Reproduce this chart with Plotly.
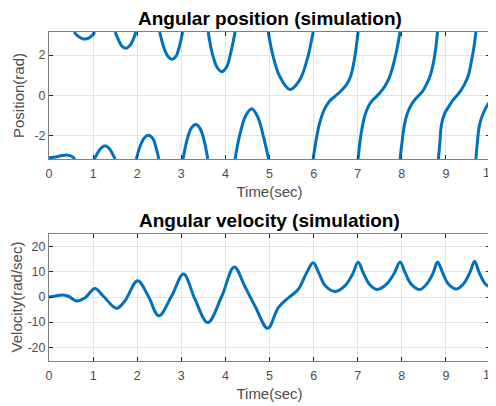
import plotly.graph_objects as go

# ---- data ----
# Angular position (wrapped to [-pi, pi]); segments separated by None at wraps
pos_t = [0.00, 0.15, 0.30, 0.42, 0.52, 0.59, None,
         0.57, 0.65, 0.74, 0.82, 0.90, 0.98, 1.04, None,
         1.03, 1.10, 1.18, 1.27, 1.36, 1.44, 1.50, None,
         1.50, 1.57, 1.65, 1.74, 1.83, 1.91, 1.97, None,
         1.98, 2.06, 2.16, 2.26, 2.36, 2.43, 2.49, None,
         2.51, 2.60, 2.70, 2.79, 2.88, 2.96, 3.03, None,
         3.04, 3.13, 3.23, 3.33, 3.43, 3.52, 3.60, None,
         3.61, 3.70, 3.81, 3.92, 4.03, 4.13, 4.22, None,
         4.22, 4.32, 4.46, 4.60, 4.74, 4.87, 4.98, None,
         4.97, 5.07, 5.22, 5.46, 5.68, 5.85, 5.99, None,
         5.99, 6.05, 6.11, 6.18, 6.26, 6.36, 6.49, 6.62, 6.75, 6.84, 6.91, 6.96, 7.01, None,
         7.01, 7.05, 7.10, 7.16, 7.24, 7.32, 7.39, 7.50, 7.62, 7.72, 7.81, 7.89, 7.96, None,
         7.96, 8.00, 8.06, 8.13, 8.22, 8.29, 8.37, 8.47, 8.56, 8.64, 8.71, 8.77, 8.81, None,
         8.83, 8.86, 8.90, 8.97, 9.07, 9.15, 9.24, 9.33, 9.42, 9.51, 9.58, 9.64, 9.68, None,
         9.68, 9.71, 9.75, 9.80, 9.85, 9.92, 10.00]
pos_v = [-3.08, -3.04, -2.97, -2.95, -3.02, -3.1416, None,
         3.1416, 2.95, 2.83, 2.79, 2.84, 2.98, 3.1416, None,
         -3.1416, -2.85, -2.60, -2.49, -2.60, -2.88, -3.1416, None,
         3.1416, 2.78, 2.45, 2.34, 2.46, 2.78, 3.1416, None,
         -3.1416, -2.55, -2.10, -1.97, -2.15, -2.60, -3.1416, None,
         3.1416, 2.40, 1.93, 1.79, 1.95, 2.45, 3.1416, None,
         -3.1416, -2.20, -1.60, -1.44, -1.65, -2.25, -3.1416, None,
         3.1416, 2.10, 1.40, 1.18, 1.42, 2.20, 3.1416, None,
         -3.1416, -2.00, -1.00, -0.66, -1.10, -2.10, -3.1416, None,
         3.1416, 2.05, 1.00, 0.30, 0.75, 1.75, 3.1416, None,
         -3.1416, -2.30, -1.60, -1.05, -0.61, -0.28, -0.03, 0.22, 0.55, 0.95, 1.60, 2.30, 3.1416, None,
         -3.1416, -2.30, -1.60, -1.00, -0.55, -0.28, -0.12, 0.12, 0.47, 0.90, 1.54, 2.30, 3.1416, None,
         -3.1416, -2.40, -1.44, -0.85, -0.45, -0.22, -0.03, 0.20, 0.55, 0.95, 1.54, 2.35, 3.1416, None,
         -3.1416, -2.40, -1.44, -0.90, -0.53, -0.25, -0.03, 0.22, 0.55, 1.00, 1.71, 2.45, 3.1416, None,
         -3.1416, -2.40, -1.60, -1.15, -0.87, -0.55, -0.28]

# Angular velocity (rad/sec)
vel_t = [0.00, 0.15, 0.29, 0.44, 0.63, 0.82, 1.04, 1.23, 1.53, 1.72, 2.01, 2.25,
         2.49, 2.78, 3.05, 3.31, 3.60, 3.92, 4.20, 4.44, 4.67, 4.96, 5.20, 5.43,
         5.65, 5.84, 5.99, 6.12, 6.26, 6.49, 6.72, 6.88, 7.01, 7.13, 7.27, 7.45,
         7.66, 7.83, 7.96, 8.08, 8.21, 8.41, 8.58, 8.71, 8.81, 8.93, 9.05, 9.24,
         9.41, 9.55, 9.65, 9.76, 9.88, 10.00]
vel_v = [0.0, 0.4, 0.8, 0.3, -1.6, -0.3, 3.4, 0.4, -4.5, -1.6, 6.5, 0.4,
         -7.5, 0.4, 9.2, -0.9, -10.2, 0.4, 12.0, 4.3, -3.6, -12.5, -4.2, -0.3,
         3.0, 9.6, 13.6, 9.5, 4.6, 2.2, 4.6, 9.0, 13.8, 9.5, 5.0, 3.0,
         5.2, 9.5, 13.9, 9.5, 5.2, 3.0, 5.5, 9.5, 13.9, 9.5, 5.3, 3.2,
         5.5, 10.0, 14.2, 9.5, 5.5, 3.9]

x_ticks = [0, 1, 2, 3, 4, 5, 6, 7, 8, 9, 10]
x_ticktext = ["0", "1", "2", "3", "4", "5", "6", "7", "8", "9", "10"]
pos_ticks = [-2, 0, 2]
vel_ticks = [-20, -10, 0, 10, 20]

BLUE = "#0072BD"
FONT = "Liberation Sans, Arial, sans-serif"
AX = "#262626"
GRID = "#e3e3e3"
TICKC = "#4d4d4d"

# the page body has an 8px margin, so the figure is drawn 8px in from the window edge
OFF = 8
W, H = 496, 406 - OFF


def fx(px):
    return (px - OFF) / W


def fy(py):
    return 1 - (py - OFF) / H


fig = go.Figure()
fig.add_trace(go.Scatter(x=pos_t, y=pos_v, mode="lines", xaxis="x", yaxis="y",
                         line=dict(color=BLUE, width=3, shape="spline"),
                         connectgaps=False, showlegend=False))
fig.add_trace(go.Scatter(x=vel_t, y=vel_v, mode="lines", xaxis="x2", yaxis="y2",
                         line=dict(color=BLUE, width=3, shape="spline", smoothing=1.0),
                         showlegend=False))

# plotly drops the last x tick label at the very edge, so it is drawn as an annotation instead
axis_ticktext = x_ticktext[:-1] + [""]


def xax(domain, anchor):
    return dict(domain=domain, anchor=anchor, range=[0, 10], tickvals=x_ticks,
                ticktext=axis_ticktext, automargin=False,
                ticklabeloverflow="allow", ticklabelstandoff=3,
                showgrid=True, gridcolor=GRID, gridwidth=1, zeroline=False,
                showline=True, linecolor="#808080", linewidth=1, mirror="ticks",
                ticks="inside", ticklen=4, tickcolor=AX,
                tickfont=dict(family=FONT, size=12.5, color=TICKC),
                title=dict(text="Time(sec)", font=dict(family=FONT, size=15, color=TICKC), standoff=6))


def yax(domain, anchor, rng, tv, title, standoff):
    return dict(domain=domain, anchor=anchor, range=rng, tickvals=tv,
                ticktext=[str(v) for v in tv], automargin=False,
                ticklabeloverflow="allow",
                showgrid=True, gridcolor=GRID, gridwidth=1, zeroline=False,
                showline=True, linecolor="#808080", linewidth=1, mirror="ticks",
                ticks="inside", ticklen=4, tickcolor=AX,
                tickfont=dict(family=FONT, size=12.5, color=TICKC),
                title=dict(text=title, font=dict(family=FONT, size=15, color=TICKC), standoff=standoff))


xd = [fx(49), fx(490)]
fig.update_layout(
    width=W, height=H,
    margin=dict(l=0, r=0, t=0, b=0),
    paper_bgcolor="white", plot_bgcolor="white",
    xaxis=xax(xd, "y"),
    yaxis=yax([fy(159), fy(32)], "x", [-3.1416, 3.1416], pos_ticks, "Position(rad)", 6),
    xaxis2=xax(xd, "y2"),
    yaxis2=yax([fy(360.5), fy(233.5)], "x2", [-25.3, 25.3], vel_ticks, "Velocity(rad/sec)", 4),
    annotations=[
        dict(text="<b>Angular position (simulation)</b>", x=fx(269.5), y=fy(18.5),
             xref="paper", yref="paper", showarrow=False, xanchor="center", yanchor="middle",
             font=dict(family=FONT, size=19, color="#000000")),
        dict(text="<b>Angular velocity (simulation)</b>", x=fx(269.5), y=fy(220),
             xref="paper", yref="paper", showarrow=False, xanchor="center", yanchor="middle",
             font=dict(family=FONT, size=19, color="#000000")),
        dict(text=x_ticktext[-1], x=x_ticks[-1], y=fy(172.5), xref="x", yref="paper",
             showarrow=False, xanchor="center", yanchor="middle",
             font=dict(family=FONT, size=12.5, color=TICKC)),
        dict(text=x_ticktext[-1], x=x_ticks[-1], y=fy(375), xref="x2", yref="paper",
             showarrow=False, xanchor="center", yanchor="middle",
             font=dict(family=FONT, size=12.5, color=TICKC)),
    ],
)

fig.write_html("out.html")
